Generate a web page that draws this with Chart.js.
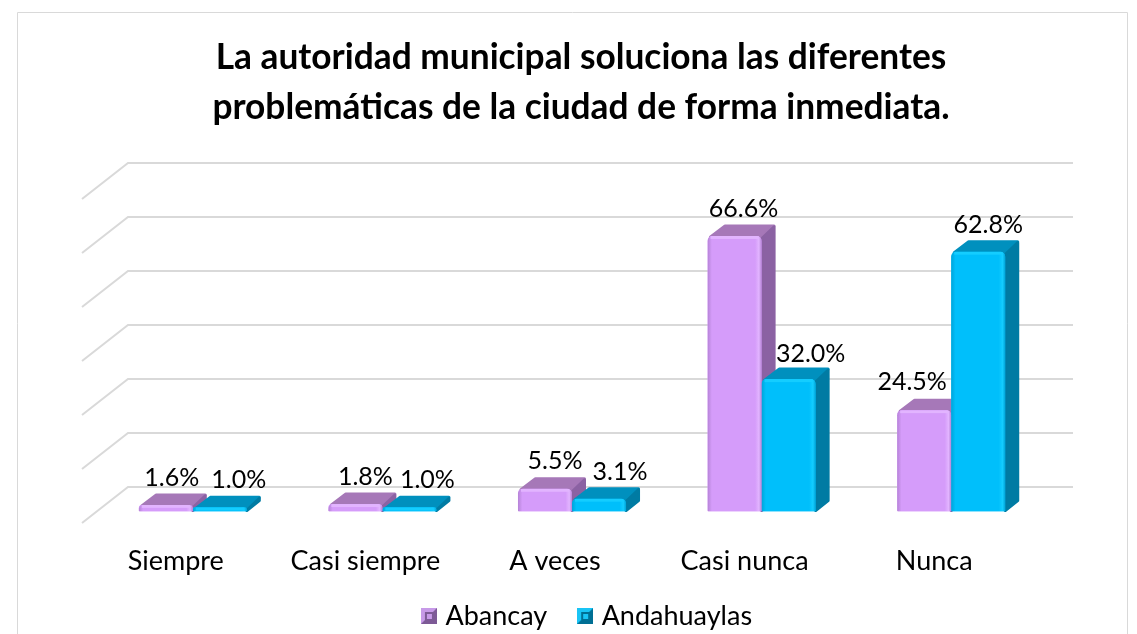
<!DOCTYPE html>
<html><head><meta charset="utf-8">
<style>html,body{margin:0;padding:0;background:#fff}#w{width:1137px;height:634px}</style>
<script src="https://cdn.jsdelivr.net/npm/chart.js@4"></script></head>
<body><div id="w"><canvas id="c" width="1137" height="634"></canvas></div>
<script>
const categories = ["Siempre","Casi siempre","A veces","Casi nunca","Nunca"];
const abancay = [1.6,1.8,5.5,66.6,24.5];
const andahuaylas = [1.0,1.0,3.1,32.0,62.8];
const wallTicks = [0,1,2,3,4,5,6];
const titleLines = ["La autoridad municipal soluciona las diferentes","problemáticas de la ciudad de forma inmediata."];

const FONT = "Lato, Carlito, Calibri, sans-serif";
const palette = {
  Abancay:{front:"#D59CFA",side:"#8B62A3",top:"#A678B8",dark:"#B583D6",light:"#E2B4FF",leg:["#7D5A96","#C79AE8","#7D5A96"]},
  Andahuaylas:{front:"#00BFFB",side:"#007BA3",top:"#0090BE",dark:"#00A4D8",light:"#14CDFF",leg:["#006F94","#19C4F5","#006F94"]}
};
const depth={dx:14.5,dy:12};
const labelNudge=[[[6,-27],[10,-27],[10,-28],[9,-27],[-12,-28]],[[19,-27],[18,-27],[21,-27],[22,-25],[10,-27]]];

function legendIcon(p){
  const c=document.createElement("canvas");c.width=16;c.height=16;const g=c.getContext("2d");
  g.fillStyle=p.leg[0];g.fillRect(0,0,16,16);
  g.fillStyle=p.leg[1];g.beginPath();g.moveTo(0,0);g.lineTo(16,0);g.lineTo(12,4);g.lineTo(4,4);g.lineTo(4,12);g.lineTo(0,16);g.fill();
  g.fillStyle=p.leg[2];g.fillRect(4,4,8,8);
  g.fillStyle=p.leg[1];g.fillRect(6,6,5,5);
  return c;
}
const icons=[legendIcon(palette.Abancay),legendIcon(palette.Andahuaylas)];

const wallAndBars={
  id:"wallAndBars",
  afterLayout(chart){chart.legend.left+=8;chart.legend.right+=8;chart.scales.x.bottom+=30;},
  beforeDatasetsDraw(chart){
    const g=chart.ctx,x=chart.scales.x,w=chart.scales.y2;
    const left=x.left+30,right=x.right+27,dLeft=x.left-16,dDown=36;
    g.save();g.strokeStyle="#D9D9D9";g.lineWidth=2;
    wallTicks.forEach(t=>{
      const py=w.getPixelForValue(t);
      g.beginPath();g.moveTo(dLeft,py+dDown);g.lineTo(left,py);g.lineTo(right,py);g.stroke();
    });
    // frame
    g.strokeStyle="#D9D9D9";g.lineWidth=1;
    g.beginPath();g.moveTo(17.5,634);g.lineTo(17.5,12.5);g.lineTo(1127.5,12.5);g.lineTo(1127.5,634);g.stroke();
    // sides and tops, back to front
    g.lineJoin="round";
    chart.data.datasets.forEach((ds,di)=>{
      const p=palette[ds.label];
      chart.getDatasetMeta(di).data.forEach(b=>{
        const L=b.x-b.width/2,R=b.x+b.width/2,T=b.y,B=b.base;
        g.lineWidth=3;
        g.fillStyle=g.strokeStyle=p.top;
        g.beginPath();g.moveTo(L+3,T+1);g.lineTo(L+3+depth.dx,T+1-depth.dy+1);g.lineTo(R+depth.dx-2,T+1-depth.dy+1);g.lineTo(R,T+1);g.closePath();g.fill();g.stroke();
        g.fillStyle=g.strokeStyle=p.side;
        g.beginPath();g.moveTo(R,T+3);g.lineTo(R+depth.dx-2,T+3-depth.dy);g.lineTo(R+depth.dx-2,B-depth.dy+1);g.lineTo(R,B-1);g.closePath();g.fill();g.stroke();
      });
    });
    g.restore();
  },
  afterDatasetsDraw(chart){
    const g=chart.ctx;
    chart.data.datasets.forEach((ds,di)=>{
      const p=palette[ds.label];
      chart.getDatasetMeta(di).data.forEach((b,i)=>{
        const L=b.x-b.width/2,R=b.x+b.width/2,T=b.y,B=b.base;
        g.save();g.beginPath();g.roundRect(L,T,R-L,B-T,[5,5,1,1]);g.clip();
        const gr=g.createLinearGradient(L,0,R,0);
        gr.addColorStop(0,p.dark);gr.addColorStop(0.08,p.front);gr.addColorStop(0.88,p.front);gr.addColorStop(0.95,p.light);gr.addColorStop(1,p.dark);
        g.fillStyle=gr;g.fillRect(L,T,R-L,B-T);
        g.fillStyle=p.light;g.fillRect(L+3,T,R-L-6,Math.min(3,B-T));
        g.restore();
        const [nx,ny]=labelNudge[di][i];
        g.save();g.font="25px "+FONT;g.fillStyle="#000";g.textAlign="center";g.textBaseline="middle";
        g.fillText(ds.data[i].toFixed(1)+"%",b.x+nx,T+ny);g.restore();
      });
    });
  }
};

new Chart(document.getElementById("c"),{
  type:"bar",
  data:{labels:categories,datasets:[
    {label:"Abancay",data:abancay,backgroundColor:palette.Abancay.front,yAxisID:"y"},
    {label:"Andahuaylas",data:andahuaylas,backgroundColor:palette.Andahuaylas.front,yAxisID:"y"}
  ]},
  options:{
    responsive:false,animation:false,
    layout:{padding:{left:25,right:0,top:0,bottom:-5.5}},
    datasets:{bar:{categoryPercentage:0.57,barPercentage:1,borderRadius:{topLeft:5,topRight:5,bottomLeft:1,bottomRight:1},borderSkipped:false}},
    scales:{
      x:{grid:{display:false,drawTicks:false},border:{display:false},
         afterFit(s){s.height=56;},
         ticks:{padding:34,labelOffset:-17,maxRotation:0,color:"#000",font:{family:FONT,size:27}}},
      y:{min:0,max:84.24,position:"left",grid:{display:false,drawTicks:false},border:{display:false},
         ticks:{display:false},afterFit(s){s.width=73;}},
      y2:{min:-0.4537,max:6,position:"right",grid:{display:false,drawTicks:false},border:{display:false},
         ticks:{display:false},afterBuildTicks(s){s.ticks=wallTicks.map(v=>({value:v}));},afterFit(s){s.width=91;}}
    },
    plugins:{
      tooltip:{enabled:false},
      title:{display:true,text:titleLines,color:"#000",padding:{top:33,bottom:30},
        font:{family:FONT,size:35.3,weight:"bold",lineHeight:1.416}},
      legend:{position:"bottom",labels:{padding:35,boxWidth:6,boxHeight:16,usePointStyle:true,color:"#000",
        font:{family:FONT,size:27},
        generateLabels(ch){return Chart.defaults.plugins.legend.labels.generateLabels(ch).map((l,i)=>({...l,pointStyle:icons[i]}));}}}
    }
  },
  plugins:[wallAndBars]
});
</script></body></html>
